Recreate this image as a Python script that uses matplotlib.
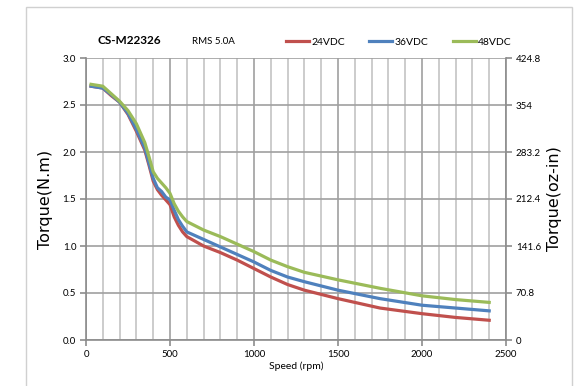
import matplotlib
matplotlib.use("Agg")
import matplotlib.pyplot as plt
from matplotlib.patches import Rectangle
from matplotlib.ticker import MultipleLocator

speed = [30, 100, 150, 200, 250, 300, 350, 375, 400, 425, 450, 475, 500, 525, 550, 575,
         600, 700, 800, 900, 1000, 1100, 1200, 1300, 1500, 1750, 2000, 2200, 2400]
t24 = [2.70, 2.68, 2.60, 2.53, 2.40, 2.22, 2.02, 1.86, 1.69, 1.60, 1.54, 1.49, 1.44, 1.31, 1.22, 1.15,
       1.10, 1.00, 0.93, 0.85, 0.76, 0.67, 0.59, 0.53, 0.44, 0.34, 0.28, 0.24, 0.21]
t36 = [2.70, 2.68, 2.61, 2.53, 2.41, 2.24, 2.04, 1.88, 1.72, 1.62, 1.58, 1.52, 1.49, 1.38, 1.28, 1.21,
       1.15, 1.07, 0.99, 0.91, 0.83, 0.74, 0.67, 0.62, 0.53, 0.44, 0.37, 0.34, 0.31]
t48 = [2.72, 2.70, 2.62, 2.54, 2.44, 2.30, 2.10, 1.95, 1.79, 1.72, 1.67, 1.62, 1.56, 1.45, 1.37, 1.31,
       1.26, 1.17, 1.10, 1.02, 0.94, 0.85, 0.78, 0.72, 0.64, 0.55, 0.47, 0.43, 0.40]
series_names = ["24VDC", "36VDC", "48VDC"]
colors = ["#C0504D", "#4F81BD", "#9BBB59"]
left_ticks = [0.0, 0.5, 1.0, 1.5, 2.0, 2.5, 3.0]
right_ticks = [0, 70.8, 141.6, 212.4, 283.2, 354, 424.8]
right_labels = ["0", "70.8", "141.6", "212.4", "283.2", "354", "424.8"]

W, H = 582, 386
fig = plt.figure(figsize=(W / 100, H / 100), dpi=100)
fig.patch.set_facecolor("white")
fig.patches.append(Rectangle((26 / W, -0.02), (572 - 26) / W, 1 - 7 / H + 0.02,
                             transform=fig.transFigure, fill=False,
                             edgecolor="#d0d0d0", lw=1.0))

ax = fig.add_axes([86 / W, 1 - 340 / H, (506 - 86) / W, (340 - 58) / H])
tick_font = "Lato"

ax.set_xlim(0, 2500)
ax.set_ylim(0, 3.0)
ax.xaxis.set_major_locator(MultipleLocator(500))
ax.xaxis.set_minor_locator(MultipleLocator(100))
ax.set_yticks(left_ticks)
ax.set_yticklabels([f"{v:.1f}" for v in left_ticks], fontsize=7, family=tick_font)
ax.set_xticks([0, 500, 1000, 1500, 2000, 2500])
ax.set_xticklabels(["0", "500", "1000", "1500", "2000", "2500"], fontsize=7, family=tick_font)
ax.grid(which="minor", axis="x", color="#c4c4c4", lw=1.2)
ax.grid(which="major", axis="both", color="#a0a0a0", lw=1.2)
ax.set_axisbelow(True)
for s in ["left", "bottom", "right"]:
    ax.spines[s].set_color("#8c8c8c")
    ax.spines[s].set_linewidth(1.2)
ax.spines["top"].set_visible(False)
ax.tick_params(which="major", length=4, color="#8c8c8c", width=1.2, pad=3)
ax.tick_params(which="minor", length=0)

lines = []
for ys, c, n in zip([t24, t36, t48], colors, series_names):
    ln, = ax.plot(speed, ys, color=c, lw=2.3, label=n, solid_joinstyle="round")
    lines.append(ln)

ax.set_xlabel("Speed (rpm)", fontsize=7.5, family=tick_font, labelpad=2)
ax.set_ylabel("Torque(N.m)", fontsize=11.5, labelpad=7)

ax2 = ax.twinx()
ax2.set_ylim(0, 424.8)
ax2.set_yticks(right_ticks)
ax2.set_yticklabels(right_labels, fontsize=7, family=tick_font)
ax2.tick_params(length=4, color="#8c8c8c", width=1.2, pad=3)
for s in ax2.spines.values():
    s.set_visible(False)
ax2.set_ylabel("Torque(oz-in)", fontsize=11.5, labelpad=4)

fig.text(97 / W, 1 - 41 / H, "CS-M22326", fontsize=8.5, fontweight="bold",
         family=tick_font, va="center", ha="left")
fig.text(192 / W, 1 - 41 / H, "RMS 5.0A", fontsize=7, family=tick_font,
         va="center", ha="left")

ax.legend(handles=lines, loc="center", bbox_to_anchor=(399 / W, 1 - 42 / H),
          bbox_transform=fig.transFigure, ncol=3, frameon=False,
          prop={"family": tick_font, "size": 7.5}, handlelength=2.2,
          handletextpad=0.25, columnspacing=2.3)

fig.savefig("out.png", dpi=100)
